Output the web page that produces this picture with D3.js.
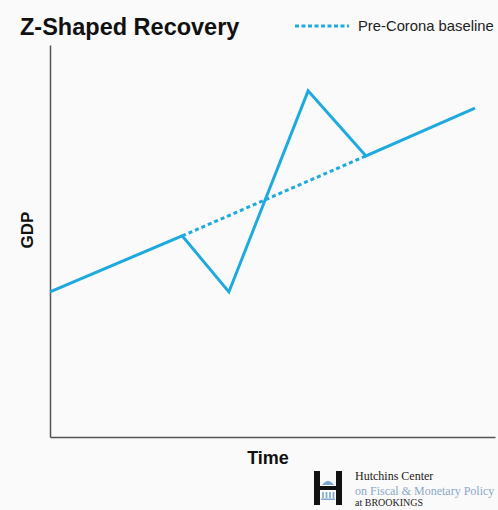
<!DOCTYPE html>
<html>
<head>
<meta charset="utf-8">
<script src="https://cdn.jsdelivr.net/npm/d3@7"></script>
<style>
  body { margin: 0; background: #fafafa; }
  svg { display: block; font-family: "Liberation Sans", Arial, sans-serif; }
</style>
</head>
<body>
<svg id="chart" width="498" height="510"></svg>
<script>
// stylised curve, no real units: time index 0..100, GDP index 0..100
const times = [0, 29.7, 40.2, 58, 71, 95.5];
const gdp = [37, 51.3, 37, 88.3, 71.7, 83.9];
const baselineTimes = [29.7, 71];
const baselineGdp = [51.3, 71.7];

const blue = '#1ea9df';
const svg = d3.select('#chart');
const margin = { top: 45, right: 3, bottom: 73, left: 50 };
const width = 498, height = 510;

const x = d3.scaleLinear().domain([0, 100]).range([margin.left, width - margin.right]);
const y = d3.scaleLinear().domain([0, 100]).range([height - margin.bottom, margin.top]);

// axes: just the bare lines, no ticks
svg.append('g')
  .attr('transform', `translate(0,${y(0)})`)
  .call(d3.axisBottom(x).ticks(0).tickSize(0))
  .call(g => g.select('.domain').attr('stroke', '#555').attr('stroke-width', 1.5));
svg.append('g')
  .attr('transform', `translate(${x(0)},0)`)
  .call(d3.axisLeft(y).ticks(0).tickSize(0))
  .call(g => g.select('.domain').attr('stroke', '#555').attr('stroke-width', 1.5));

const line = d3.line().x(d => x(d[0])).y(d => y(d[1]));

svg.append('path')
  .datum(d3.zip(baselineTimes, baselineGdp))
  .attr('d', line)
  .attr('fill', 'none')
  .attr('stroke', blue)
  .attr('stroke-width', 3)
  .attr('stroke-dasharray', '4,3');

svg.append('path')
  .datum(d3.zip(times, gdp))
  .attr('d', line)
  .attr('fill', 'none')
  .attr('stroke', blue)
  .attr('stroke-width', 3)
  .attr('stroke-linejoin', 'miter');

// title
svg.append('text')
  .attr('x', 20).attr('y', 35)
  .attr('font-size', 23.5).attr('font-weight', 'bold')
  .attr('fill', '#111')
  .text('Z-Shaped Recovery');

// legend
svg.append('line')
  .attr('x1', 295).attr('x2', 349).attr('y1', 26).attr('y2', 26)
  .attr('stroke', blue).attr('stroke-width', 3)
  .attr('stroke-dasharray', '4,2.5');
svg.append('text')
  .attr('x', 358).attr('y', 31)
  .attr('font-size', 14.8).attr('fill', '#222')
  .text('Pre-Corona baseline');

// axis titles
svg.append('text')
  .attr('transform', 'translate(33,230) rotate(-90)')
  .attr('text-anchor', 'middle')
  .attr('font-size', 17).attr('font-weight', 'bold')
  .attr('fill', '#111')
  .text('GDP');
svg.append('text')
  .attr('x', 268).attr('y', 464)
  .attr('text-anchor', 'middle')
  .attr('font-size', 18).attr('font-weight', 'bold')
  .attr('fill', '#111')
  .text('Time');

// Hutchins Center logo
const logo = svg.append('g');
logo.append('rect').attr('x', 314).attr('y', 471).attr('width', 6).attr('height', 34).attr('fill', '#111');
logo.append('rect').attr('x', 336).attr('y', 471).attr('width', 6).attr('height', 34).attr('fill', '#111');
logo.append('rect').attr('x', 320).attr('y', 486).attr('width', 16).attr('height', 4).attr('fill', '#111');
logo.append('path').attr('d', 'M322,485 Q328,477 334,485 Z').attr('fill', '#7fa6cf');
[323, 326.5, 330, 333.5].forEach(cx => {
  logo.append('rect').attr('x', cx - 0.8).attr('y', 492).attr('width', 1.6).attr('height', 6).attr('fill', '#7fa6cf');
});
logo.append('rect').attr('x', 321).attr('y', 498.5).attr('width', 14).attr('height', 1.5).attr('fill', '#7fa6cf');

const serif = '"Liberation Serif", "DejaVu Serif", serif';
logo.append('text').attr('x', 355).attr('y', 480)
  .attr('font-family', serif).attr('font-size', 12).attr('fill', '#222')
  .text('Hutchins Center');
logo.append('text').attr('x', 355).attr('y', 495)
  .attr('font-family', serif).attr('font-size', 12).attr('fill', '#8aa9c9')
  .text('on Fiscal & Monetary Policy');
logo.append('text').attr('x', 355).attr('y', 506)
  .attr('font-family', serif).attr('font-size', 10).attr('fill', '#222')
  .text('at BROOKINGS');
</script>
</body>
</html>
